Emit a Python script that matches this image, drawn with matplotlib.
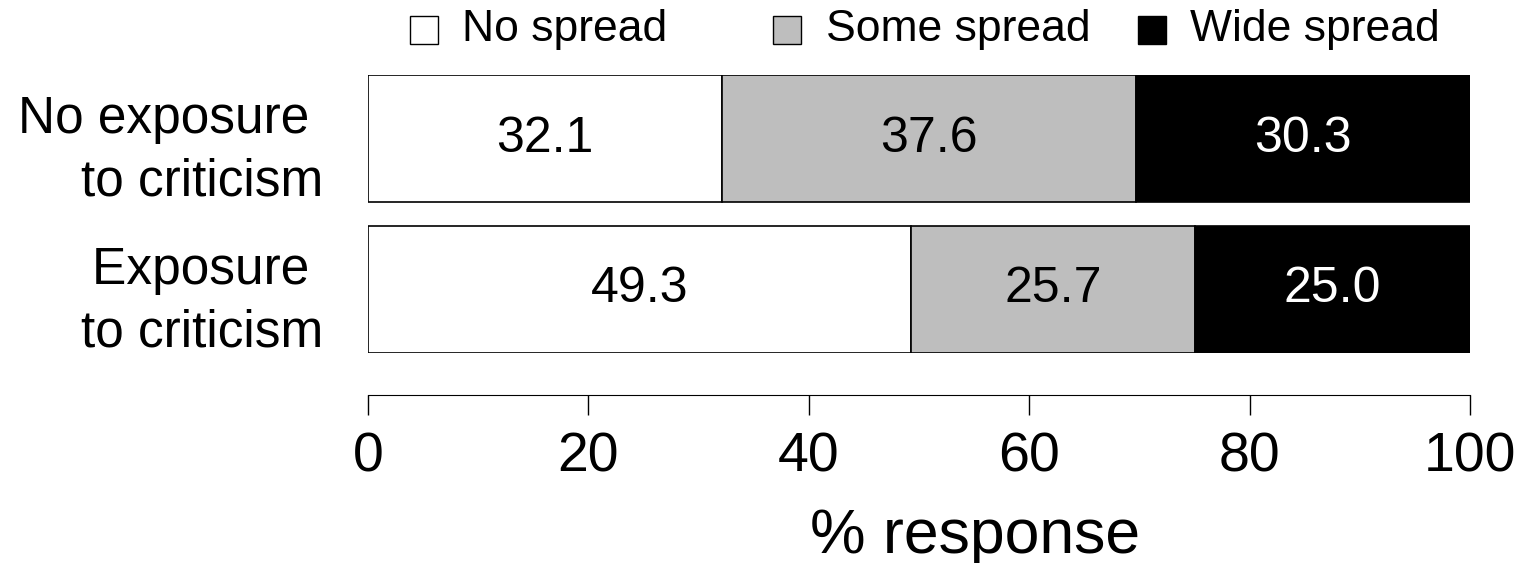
import matplotlib.pyplot as plt
from matplotlib.patches import Rectangle

grupos = ['No exposure \nto criticism', 'Exposure \nto criticism']
categorias = ['No spread', 'Some spread', 'Wide spread']
sem_spread = [32.1, 49.3]
algum_spread = [37.6, 25.7]
amplo_spread = [30.3, 25.0]
cores = ['white', '#BEBEBE', 'black']

plt.rcParams['font.family'] = ['Liberation Sans', 'DejaVu Sans']

W, H = 1520, 563
fig = plt.figure(figsize=(W / 100, H / 100), dpi=100)
ax = fig.add_axes([368 / W, 1 - 353 / H, (1470 - 368) / W, (353 - 75) / H])

ypos = [1, 0]
esquerda = [0, 0]
for valores, cor in zip([sem_spread, algum_spread, amplo_spread], cores):
    barras = ax.barh(ypos, valores, left=esquerda, height=0.845,
                     color=cor, edgecolor='black', linewidth=1.2)
    cor_txt = 'white' if cor == 'black' else 'black'
    ax.bar_label(barras, labels=[f'{v:.1f}' for v in valores],
                 label_type='center', color=cor_txt, fontsize=36)
    esquerda = [e + v for e, v in zip(esquerda, valores)]

ax.set_xlim(0, 100)
ax.set_ylim(-0.4225, 1.4225)
ax.set_yticks(ypos)
ax.set_yticklabels(grupos, multialignment='right', fontsize=37,
                   linespacing=1.35)
ax.tick_params(axis='y', length=0, pad=32)

ax.spines[['top', 'right', 'left']].set_visible(False)
ax.spines['bottom'].set_position(('outward', 30))
ax.spines['bottom'].set_bounds(0, 100)
ax.set_xticks([0, 20, 40, 60, 80, 100])
ax.tick_params(axis='x', length=14.4, width=1, pad=12, labelsize=40)
ax.set_xlabel('% response', fontsize=45, labelpad=17, x=0.551)

# legenda manual no topo
pos_leg = [(410, 462), (773, 826), (1138, 1190)]
for (bx, tx), cor, nome in zip(pos_leg, cores, categorias):
    fig.add_artist(Rectangle((bx / W, 1 - 44 / H), 28 / W, 28 / H,
                             transform=fig.transFigure, facecolor=cor,
                             edgecolor='black', linewidth=1))
    fig.text(tx / W, 1 - 30 / H, nome, fontsize=32, va='center', ha='left')

fig.savefig('out.png', dpi=100)
